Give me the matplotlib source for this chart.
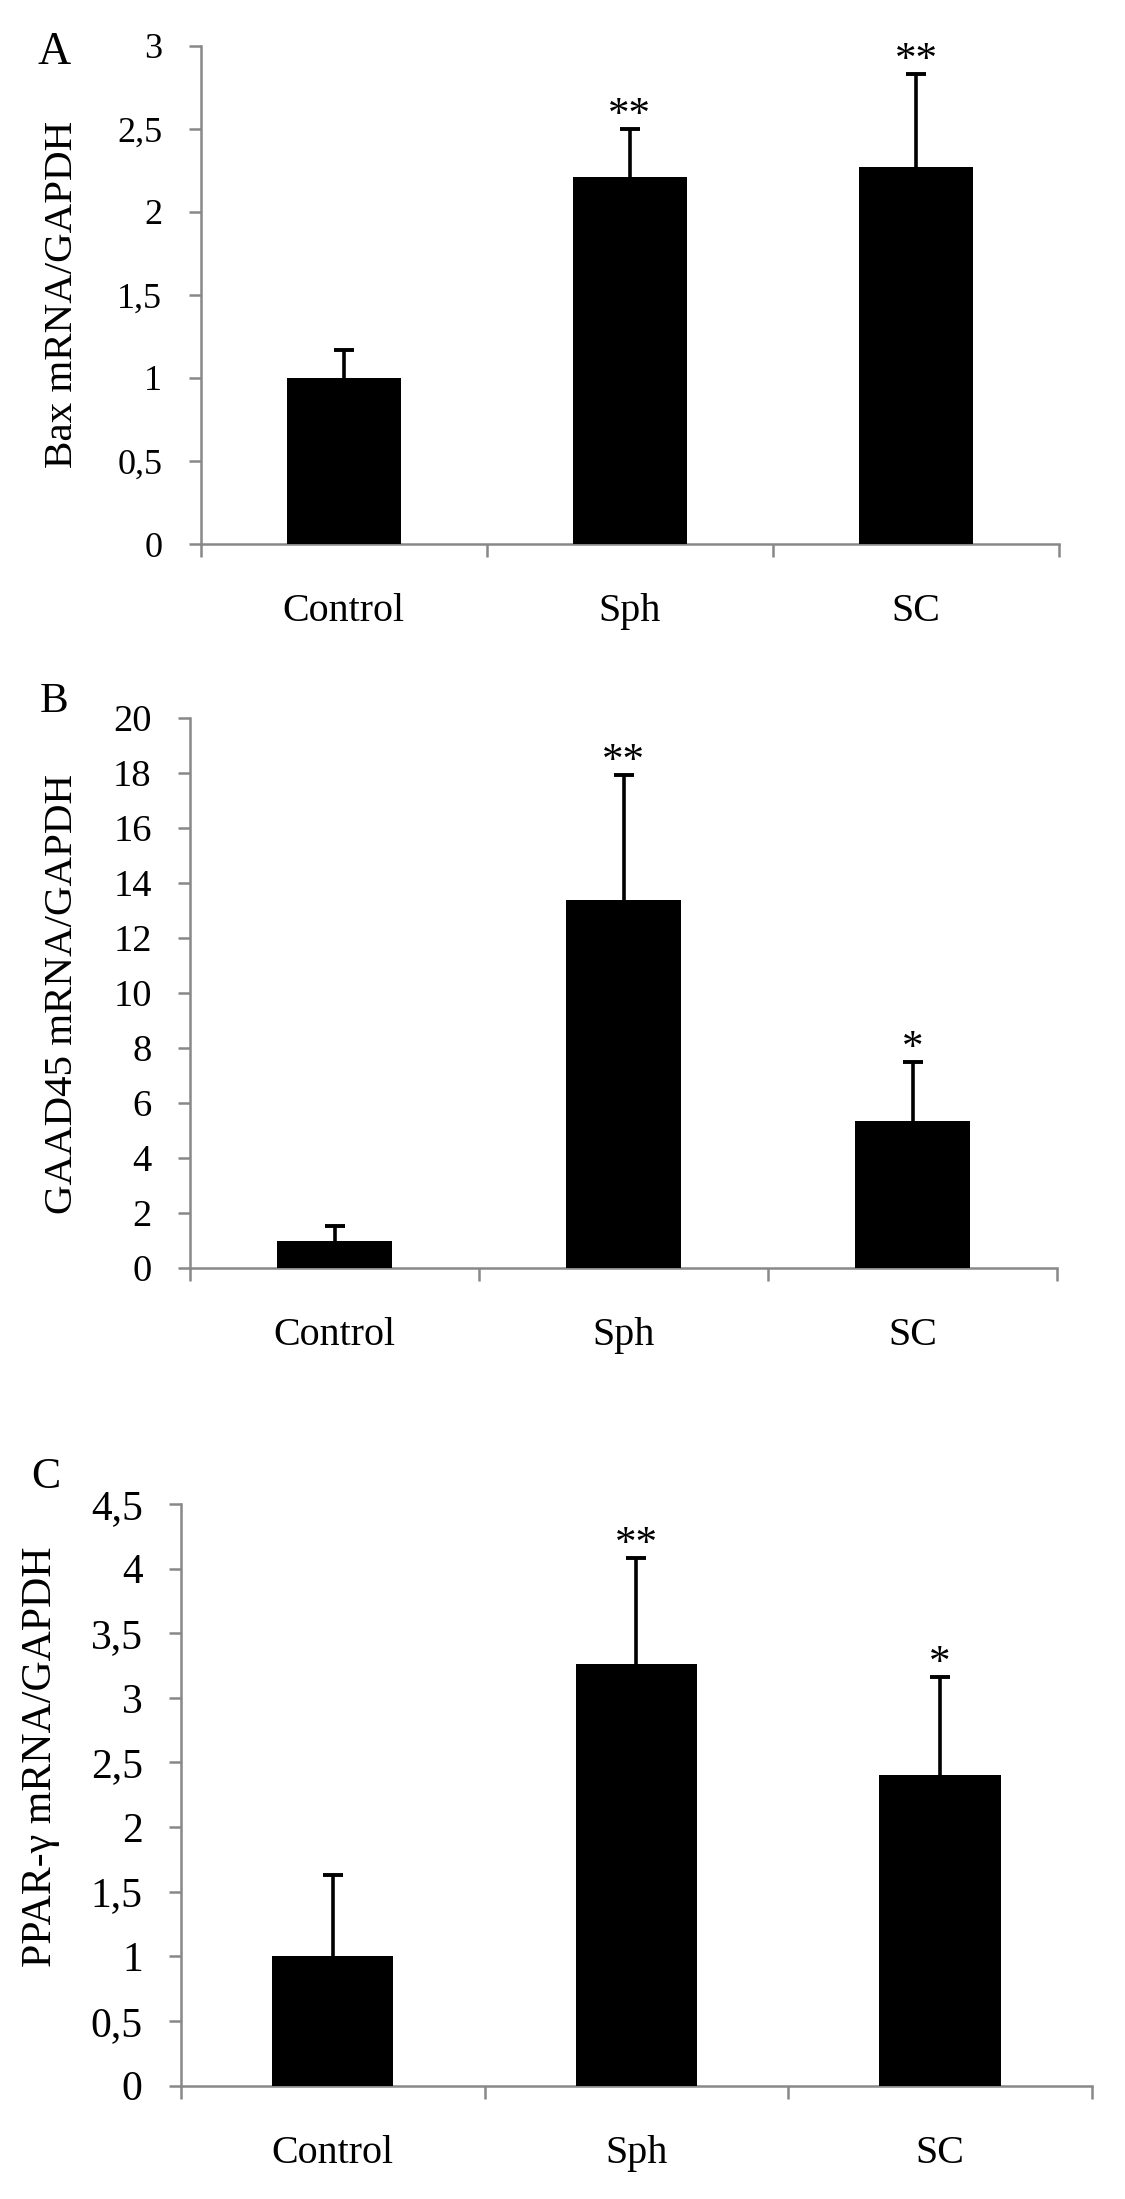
import numpy as np
import matplotlib
matplotlib.use("Agg")
import matplotlib.pyplot as plt

plt.rcParams["font.family"] = ["Liberation Serif", "DejaVu Serif"]

# Datos
grupos = ["Control", "Sph", "SC"]

bax_media = [1.0, 2.21, 2.27]
bax_error = [0.17, 0.29, 0.56]
bax_signif = ["", "**", "**"]
bax_ticks = [0, 0.5, 1, 1.5, 2, 2.5, 3]
bax_etiquetas = ["0", "0,5", "1", "1,5", "2", "2,5", "3"]

gadd_media = [1.0, 13.38, 5.36]
gadd_error = [0.53, 4.55, 2.14]
gadd_signif = ["", "**", "*"]
gadd_ticks = [0, 2, 4, 6, 8, 10, 12, 14, 16, 18, 20]
gadd_etiquetas = ["0", "2", "4", "6", "8", "10", "12", "14", "16", "18", "20"]

ppar_media = [1.0, 3.26, 2.40]
ppar_error = [0.63, 0.825, 0.76]
ppar_signif = ["", "**", "*"]
ppar_ticks = [0, 0.5, 1, 1.5, 2, 2.5, 3, 3.5, 4, 4.5]
ppar_etiquetas = ["0", "0,5", "1", "1,5", "2", "2,5", "3", "3,5", "4", "4,5"]

W, H = 1125, 2199
GRIS = "#888888"
fig = plt.figure(figsize=(W / 100, H / 100), dpi=100)


def caja(izq, der, arriba, abajo):
    return [izq / W, 1 - abajo / H, (der - izq) / W, (abajo - arriba) / H]


def panel(rect, medias, errores, signif, ticks, etiquetas, tam_ticks):
    ax = fig.add_axes(rect)
    x = np.arange(len(grupos))
    ax.errorbar(x, medias, yerr=errores, fmt="none", ecolor="black",
                elinewidth=2.6, capsize=7, capthick=2.8, zorder=2)
    ax.bar(x, medias, width=0.4, color="black", zorder=3)
    for xi, m, e, s in zip(x, medias, errores, signif):
        if s:
            ax.annotate(s, (xi, m + e), xytext=(0, 2), textcoords="offset points",
                        ha="center", va="baseline", fontsize=31)
    ax.set_xlim(-0.5, len(grupos) - 0.5)
    ax.set_ylim(ticks[0], ticks[-1])
    ax.set_yticks(ticks)
    ax.set_yticklabels(etiquetas)
    ax.set_xticks(x)
    ax.set_xticklabels(grupos)
    ax.set_xticks(np.arange(len(grupos) + 1) - 0.5, minor=True)
    for lado in ["top", "right"]:
        ax.spines[lado].set_visible(False)
    for lado in ["left", "bottom"]:
        ax.spines[lado].set_color(GRIS)
        ax.spines[lado].set_linewidth(1.8)
    ax.tick_params(axis="y", direction="out", length=8.6, width=1.8, color=GRIS,
                   pad=19, labelsize=tam_ticks)
    ax.tick_params(axis="x", which="major", length=0, pad=35.5, labelsize=28.8)
    ax.tick_params(axis="x", which="minor", direction="out", length=9, width=1.8,
                   color=GRIS)
    return ax


panel(caja(200.7, 1059, 45.7, 544), bax_media, bax_error, bax_signif,
      bax_ticks, bax_etiquetas, 26)
panel(caja(190, 1057, 718, 1268), gadd_media, gadd_error, gadd_signif,
      gadd_ticks, gadd_etiquetas, 27.7)
panel(caja(181, 1091.7, 1504, 2085.5), ppar_media, ppar_error, ppar_signif,
      ppar_ticks, ppar_etiquetas, 29.9)


def texto(x, y, s, **kw):
    fig.text(x / W, 1 - y / H, s, **kw)


# Títulos de los ejes y letras de los paneles
texto(71.7, 294, "Bax mRNA/GAPDH", rotation=90, rotation_mode="anchor",
      ha="center", va="baseline", fontsize=29.5)
texto(71.7, 994, "GAAD45 mRNA/GAPDH", rotation=90, rotation_mode="anchor",
      ha="center", va="baseline", fontsize=29.5)
texto(50.6, 1757, "PPAR-γ mRNA/GAPDH", rotation=90, rotation_mode="anchor",
      ha="center", va="baseline", fontsize=30.2)

texto(54, 63.6, "A", ha="center", va="baseline", fontsize=33)
texto(54, 712, "B", ha="center", va="baseline", fontsize=31)
texto(46, 1488, "C", ha="center", va="baseline", fontsize=31.5)

fig.savefig("out.png", dpi=100)
